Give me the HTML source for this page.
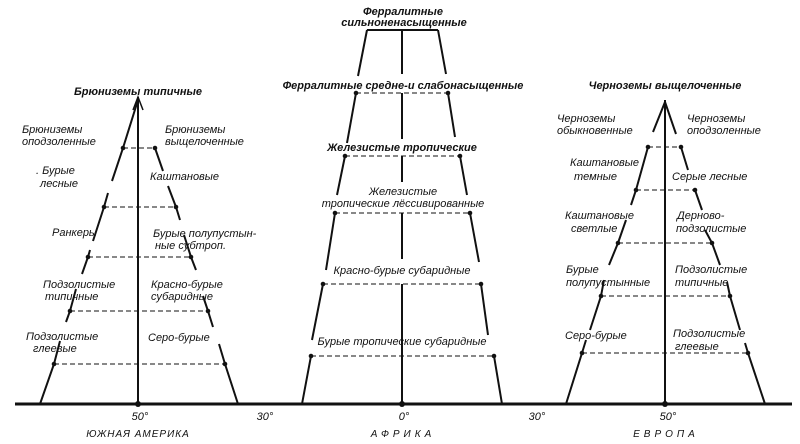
<!DOCTYPE html>
<html><head><meta charset="utf-8"><style>
html,body{margin:0;padding:0;background:#fff;}
svg{display:block}
text{font-family:"Liberation Sans","DejaVu Sans",sans-serif;font-style:italic;font-size:11px;fill:#111;}
.b{font-weight:bold}
.c{text-anchor:middle}
</style></head><body>
<svg width="800" height="444" viewBox="0 0 800 444" xmlns="http://www.w3.org/2000/svg">
<g stroke="#111" fill="none">
<line x1="15" y1="404" x2="792" y2="404" stroke-width="3"/>
<!-- South America -->
<line x1="138" y1="97" x2="138" y2="404" stroke-width="2"/>
<path d="M133,110 L138,97 L143,110" stroke-width="1.5"/>
<path d="M138,100 L123,148 L112,181 M108,193 L104,207 L93,241 M90,250 L88,257 L82,274 M76,289 L70,311 L66,322 M60,341 L54,364 L40,404" stroke-width="2"/>
<path d="M155,148 L163,171 M168,186 L176,207 L180,220 M184,235 L191,257 L196,270 M203,296 L208,311 L213,327 M219,344 L225,364 L238,404" stroke-width="2"/>
<g stroke-dasharray="5,3" stroke-width="1">
<line x1="123" y1="148" x2="155" y2="148"/><line x1="104" y1="207" x2="176" y2="207"/><line x1="88" y1="257" x2="191" y2="257"/><line x1="70" y1="311" x2="208" y2="311"/><line x1="54" y1="364" x2="225" y2="364"/>
</g>
<!-- Africa -->
<path d="M367,30 L438,30 M402,30 L402,74 M402,93 L402,139 M402,156 L402,182 M402,213 L402,259 M402,284 L402,404" stroke-width="2"/>
<path d="M367,30 L358,76 M356,93 L347,143 M345,156 L337,195 M335,213 L326,270 M323,284 L312,340 M311,356 L302,404" stroke-width="2"/>
<path d="M438,30 L446,74 M448,93 L455,137 M460,156 L467,195 M470,213 L479,262 M481,284 L488,335 M494,356 L502,404" stroke-width="2"/>
<g stroke-dasharray="5,3" stroke-width="1">
<line x1="356" y1="93" x2="448" y2="93"/><line x1="345" y1="156" x2="460" y2="156"/><line x1="335" y1="213" x2="470" y2="213"/><line x1="323" y1="284" x2="481" y2="284"/><line x1="311" y1="356" x2="494" y2="356"/>
</g>
<!-- Europe -->
<line x1="665" y1="100" x2="665" y2="404" stroke-width="2"/>
<path d="M665,102 L653,132 M648,147 L636,190 L631,205 M626,220 L618,243 L609,265 M604,280 L601,296 L590,330 M586,340 L582,353 L566,404" stroke-width="2"/>
<path d="M665,102 L676,134 M681,147 L688,170 M695,190 L702,210 M705,230 L712,243 L720,265 M727,282 L730,296 L740,330 M745,343 L748,353 L765,404" stroke-width="2"/>
<g stroke-dasharray="5,3" stroke-width="1">
<line x1="648" y1="147" x2="681" y2="147"/><line x1="636" y1="190" x2="695" y2="190"/><line x1="618" y1="243" x2="712" y2="243"/><line x1="601" y1="296" x2="730" y2="296"/><line x1="582" y1="353" x2="748" y2="353"/>
</g>
</g>
<g fill="#111">
<circle cx="123" cy="148" r="2.3"/><circle cx="155" cy="148" r="2.3"/><circle cx="104" cy="207" r="2.3"/><circle cx="176" cy="207" r="2.3"/><circle cx="88" cy="257" r="2.3"/><circle cx="191" cy="257" r="2.3"/><circle cx="70" cy="311" r="2.3"/><circle cx="208" cy="311" r="2.3"/><circle cx="54" cy="364" r="2.3"/><circle cx="225" cy="364" r="2.3"/>
<circle cx="356" cy="93" r="2.3"/><circle cx="448" cy="93" r="2.3"/><circle cx="345" cy="156" r="2.3"/><circle cx="460" cy="156" r="2.3"/><circle cx="335" cy="213" r="2.3"/><circle cx="470" cy="213" r="2.3"/><circle cx="323" cy="284" r="2.3"/><circle cx="481" cy="284" r="2.3"/><circle cx="311" cy="356" r="2.3"/><circle cx="494" cy="356" r="2.3"/>
<circle cx="648" cy="147" r="2.3"/><circle cx="681" cy="147" r="2.3"/><circle cx="636" cy="190" r="2.3"/><circle cx="695" cy="190" r="2.3"/><circle cx="618" cy="243" r="2.3"/><circle cx="712" cy="243" r="2.3"/><circle cx="601" cy="296" r="2.3"/><circle cx="730" cy="296" r="2.3"/><circle cx="582" cy="353" r="2.3"/><circle cx="748" cy="353" r="2.3"/>
<circle cx="138" cy="404" r="3"/><circle cx="402" cy="404" r="3"/><circle cx="665" cy="404" r="3"/>
</g>
<!-- SA labels -->
<text x="138" y="95" class="c b">Брюниземы типичные</text>
<text x="22" y="133">Брюниземы</text><text x="22" y="145">оподзоленные</text>
<text x="165" y="133">Брюниземы</text><text x="165" y="145">выщелоченные</text>
<text x="36" y="174">. Бурые</text><text x="40" y="187">лесные</text>
<text x="150" y="180">Каштановые</text>
<text x="52" y="236">Ранкеры</text>
<text x="153" y="237">Бурые полупустын-</text><text x="155" y="249">ные субтроп.</text>
<text x="43" y="288">Подзолистые</text><text x="45" y="300">типичные</text>
<text x="151" y="288">Красно-бурые</text><text x="151" y="300">субаридные</text>
<text x="26" y="340">Подзолистые</text><text x="33" y="352">глеевые</text>
<text x="148" y="341">Серо-бурые</text>
<!-- Africa labels -->
<text x="403" y="15" class="c b">Ферралитные</text><text x="404" y="26" class="c b">сильноненасыщенные</text>
<text x="403" y="89" class="c b">Ферралитные средне-и слабонасыщенные</text>
<text x="402" y="151" class="c b">Железистые тропические</text>
<text x="403" y="195" class="c">Железистые</text><text x="403" y="207" class="c">тропические лёссивированные</text>
<text x="402" y="274" class="c">Красно-бурые субаридные</text>
<text x="402" y="345" class="c">Бурые тропические субаридные</text>
<!-- Europe labels -->
<text x="665" y="89" class="c b">Черноземы выщелоченные</text>
<text x="557" y="122">Черноземы</text><text x="557" y="134">обыкновенные</text>
<text x="687" y="122">Черноземы</text><text x="687" y="134">оподзоленные</text>
<text x="570" y="166">Каштановые</text><text x="574" y="180">темные</text>
<text x="672" y="180">Серые лесные</text>
<text x="565" y="219">Каштановые</text><text x="571" y="232">светлые</text>
<text x="677" y="219">Дерново-</text><text x="676" y="232">подзолистые</text>
<text x="566" y="273">Бурые</text><text x="566" y="286">полупустынные</text>
<text x="675" y="273">Подзолистые</text><text x="675" y="286">типичные</text>
<text x="565" y="339">Серо-бурые</text>
<text x="673" y="337">Подзолистые</text><text x="675" y="350">глеевые</text>
<!-- bottom -->
<text x="140" y="420" class="c">50°</text>
<text x="265" y="420" class="c">30°</text>
<text x="404" y="420" class="c">0°</text>
<text x="537" y="420" class="c">30°</text>
<text x="668" y="420" class="c">50°</text>
<text x="138" y="437" class="c" style="font-size:10px;letter-spacing:1px">ЮЖНАЯ  АМЕРИКА</text>
<text x="403" y="437" class="c" style="font-size:10px;letter-spacing:4px">АФРИКА</text>
<text x="666" y="437" class="c" style="font-size:10px;letter-spacing:4px">ЕВРОПА</text>
</svg>
</body></html>
